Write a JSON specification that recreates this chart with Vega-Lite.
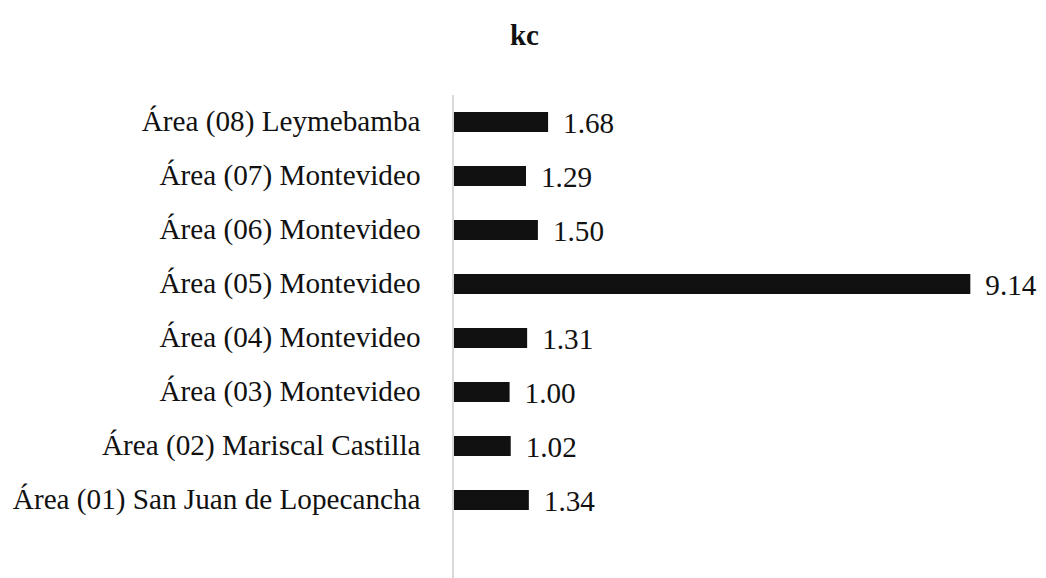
{
  "$schema": "https://vega.github.io/schema/vega-lite/v6.json",
  "autosize": "none",
  "width": 566,
  "height": 483,
  "padding": {"left": 453, "top": 95, "right": 27, "bottom": 0},
  "background": "white",
  "title": {
    "text": "kc",
    "font": "Liberation Serif",
    "fontSize": 29,
    "fontWeight": "bold",
    "color": "#111111",
    "anchor": "middle",
    "frame": "bounds",
    "offset": 43
  },
  "config": {
    "view": {"stroke": null},
    "font": "Liberation Serif"
  },
  "data": {
    "values": [
      {"area": "Área (08) Leymebamba", "kc": 1.68},
      {"area": "Área (07) Montevideo", "kc": 1.29},
      {"area": "Área (06) Montevideo", "kc": 1.50},
      {"area": "Área (05) Montevideo", "kc": 9.14},
      {"area": "Área (04) Montevideo", "kc": 1.31},
      {"area": "Área (03) Montevideo", "kc": 1.00},
      {"area": "Área (02) Mariscal Castilla", "kc": 1.02},
      {"area": "Área (01) San Juan de Lopecancha", "kc": 1.34}
    ]
  },
  "encoding": {
    "y": {
      "field": "area",
      "type": "nominal",
      "sort": null,
      "scale": {"paddingInner": 0.63, "paddingOuter": 0.787, "align": 0.2},
      "axis": {
        "title": null,
        "domain": false,
        "ticks": false,
        "labelPadding": 33,
        "labelFont": "Liberation Serif",
        "labelFontSize": 29.2,
        "labelColor": "#111111",
        "labelLimit": 600
      }
    }
  },
  "layer": [
    {
      "mark": {"type": "bar", "color": "#111111"},
      "encoding": {
        "x": {
          "field": "kc",
          "type": "quantitative",
          "scale": {"domain": [0, 10], "nice": false},
          "axis": null
        }
      }
    },
    {
      "mark": {"type": "text", "align": "left", "baseline": "middle", "dx": 15, "dy": 2, "font": "Liberation Serif", "fontSize": 29.2, "color": "#111111"},
      "encoding": {
        "x": {"field": "kc", "type": "quantitative"},
        "text": {"field": "kc", "type": "quantitative", "format": ".2f"}
      }
    },
    {
      "mark": {"type": "rule", "color": "#d9d9d9", "strokeWidth": 1.5},
      "encoding": {"x": {"datum": 0}, "y": null}
    }
  ]
}
